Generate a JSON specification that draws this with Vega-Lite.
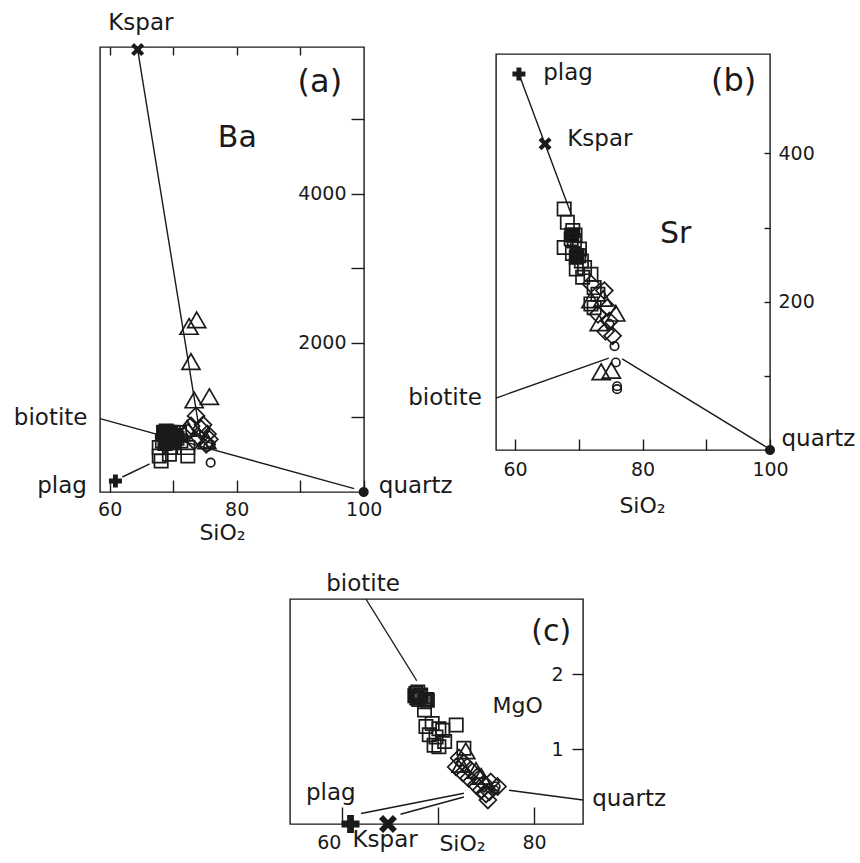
{
  "$schema": "https://vega.github.io/schema/vega-lite/v6.json",
  "padding": {"left": 13, "top": 11, "right": 5, "bottom": 5},
  "background": "white",
  "config": {
    "font": "DejaVu Sans",
    "view": {"stroke": "#1a1a1a", "strokeWidth": 1.4},
    "axis": {"grid": false, "domain": false, "ticks": true, "tickColor": "#1a1a1a", "tickWidth": 1.4, "labelColor": "#1a1a1a", "labelFont": "DejaVu Sans", "labelFontSize": 19, "titleFont": "DejaVu Sans", "titleFontSize": 22, "titleFontWeight": "normal", "titleColor": "#1a1a1a", "labelFlush": false, "labelOverlap": false, "labelBound": false},
    "text": {"font": "DejaVu Sans", "color": "#1a1a1a"}
  },
  "datasets": {
    "a_lines": [
      {"line": "k", "SiO2": 64.4, "Ba": 5929}, {"line": "k", "SiO2": 74.3, "Ba": 740},
      {"line": "b", "SiO2": 58.47, "Ba": 984}, {"line": "b", "SiO2": 98.5, "Ba": 46},
      {"line": "p", "SiO2": 62.0, "Ba": 201}, {"line": "p", "SiO2": 66.3, "Ba": 376}
    ],
    "a_fill": [
      {"sym": "S", "SiO2": 68.5, "Ba": 800}, {"sym": "S", "SiO2": 69.5, "Ba": 790}, {"sym": "S", "SiO2": 70.3, "Ba": 745},
      {"sym": "S", "SiO2": 68.8, "Ba": 720}, {"sym": "S", "SiO2": 69.8, "Ba": 690}, {"sym": "S", "SiO2": 69.0, "Ba": 660}
    ],
    "a_pts": [
      {"sym": "S", "SiO2": 69.6, "Ba": 774}, {"sym": "S", "SiO2": 68.9, "Ba": 819}, {"sym": "S", "SiO2": 70.1, "Ba": 707}, {"sym": "S", "SiO2": 68.3, "Ba": 685},
      {"sym": "S", "SiO2": 71.0, "Ba": 796}, {"sym": "S", "SiO2": 67.8, "Ba": 595}, {"sym": "S", "SiO2": 69.6, "Ba": 595}, {"sym": "S", "SiO2": 72.3, "Ba": 595},
      {"sym": "S", "SiO2": 67.8, "Ba": 483}, {"sym": "S", "SiO2": 69.4, "Ba": 506}, {"sym": "S", "SiO2": 72.3, "Ba": 483}, {"sym": "S", "SiO2": 68.1, "Ba": 416},
      {"sym": "S", "SiO2": 70.2, "Ba": 595}, {"sym": "S", "SiO2": 71.2, "Ba": 685}, {"sym": "S", "SiO2": 69.1, "Ba": 729}, {"sym": "S", "SiO2": 69.2, "Ba": 800},
      {"sym": "S", "SiO2": 70.4, "Ba": 760}, {"sym": "S", "SiO2": 68.7, "Ba": 650}, {"sym": "S", "SiO2": 69.0, "Ba": 760}, {"sym": "S", "SiO2": 69.8, "Ba": 740},
      {"sym": "S", "SiO2": 68.5, "Ba": 780}, {"sym": "S", "SiO2": 70.0, "Ba": 800}, {"sym": "S", "SiO2": 69.4, "Ba": 700}, {"sym": "S", "SiO2": 68.8, "Ba": 700},
      {"sym": "S", "SiO2": 70.6, "Ba": 720}, {"sym": "S", "SiO2": 69.9, "Ba": 660},
      {"sym": "D", "SiO2": 73.6, "Ba": 1020}, {"sym": "D", "SiO2": 72.8, "Ba": 886}, {"sym": "D", "SiO2": 74.4, "Ba": 846}, {"sym": "D", "SiO2": 75.4, "Ba": 778},
      {"sym": "D", "SiO2": 72.3, "Ba": 796}, {"sym": "D", "SiO2": 74.1, "Ba": 729}, {"sym": "D", "SiO2": 75.7, "Ba": 707}, {"sym": "D", "SiO2": 73.3, "Ba": 685},
      {"sym": "D", "SiO2": 75.2, "Ba": 640}, {"sym": "D", "SiO2": 74.7, "Ba": 900},
      {"sym": "T", "SiO2": 72.5, "Ba": 2184}, {"sym": "T", "SiO2": 73.7, "Ba": 2273}, {"sym": "T", "SiO2": 72.8, "Ba": 1714}, {"sym": "T", "SiO2": 73.3, "Ba": 1199},
      {"sym": "T", "SiO2": 75.7, "Ba": 1244}, {"sym": "T", "SiO2": 72.2, "Ba": 820}, {"sym": "T", "SiO2": 75.3, "Ba": 650},
      {"sym": "C", "SiO2": 75.9, "Ba": 393}, {"sym": "C", "SiO2": 75.9, "Ba": 640}, {"sym": "C", "SiO2": 75.5, "Ba": 610}
    ],
    "a_min": [
      {"sym": "plag", "SiO2": 60.9, "Ba": 148}, {"sym": "Kspar", "SiO2": 64.4, "Ba": 5929}, {"sym": "quartz", "SiO2": 100, "Ba": 0}
    ],
    "a_lab": [
      {"text": "Kspar", "kind": "lab", "SiO2": 64.9, "Ba": 6287}, {"text": "biotite", "kind": "lab", "SiO2": 50.7, "Ba": 989},
      {"text": "plag", "kind": "lab", "SiO2": 52.5, "Ba": 86}, {"text": "quartz", "kind": "lab", "SiO2": 108.2, "Ba": 86},
      {"text": "(a)", "kind": "letter", "SiO2": 93.1, "Ba": 5499}, {"text": "Ba", "kind": "elem", "SiO2": 80.1, "Ba": 4748}
    ],
    "b_lines": [
      {"line": "p", "SiO2": 60.6, "Sr": 507}, {"line": "p", "SiO2": 68.8, "Sr": 318},
      {"line": "b", "SiO2": 57.0, "Sr": 70}, {"line": "b", "SiO2": 74.7, "Sr": 124},
      {"line": "q", "SiO2": 76.8, "Sr": 123}, {"line": "q", "SiO2": 99.6, "Sr": 3}
    ],
    "b_fill": [
      {"sym": "S", "SiO2": 68.9, "Sr": 290}, {"sym": "S", "SiO2": 69.7, "Sr": 262}
    ],
    "b_pts": [
      {"sym": "S", "SiO2": 67.7, "Sr": 325}, {"sym": "S", "SiO2": 68.2, "Sr": 307}, {"sym": "S", "SiO2": 69.05, "Sr": 296}, {"sym": "S", "SiO2": 67.7, "Sr": 273},
      {"sym": "S", "SiO2": 69.3, "Sr": 282}, {"sym": "S", "SiO2": 70.1, "Sr": 271}, {"sym": "S", "SiO2": 69.6, "Sr": 260}, {"sym": "S", "SiO2": 70.4, "Sr": 255},
      {"sym": "S", "SiO2": 69.6, "Sr": 244}, {"sym": "S", "SiO2": 70.6, "Sr": 233}, {"sym": "S", "SiO2": 71.9, "Sr": 237}, {"sym": "S", "SiO2": 72.4, "Sr": 219},
      {"sym": "S", "SiO2": 71.9, "Sr": 197}, {"sym": "S", "SiO2": 73.0, "Sr": 210}, {"sym": "S", "SiO2": 72.4, "Sr": 192}, {"sym": "S", "SiO2": 68.8, "Sr": 285},
      {"sym": "S", "SiO2": 69.0, "Sr": 265}, {"sym": "S", "SiO2": 70.9, "Sr": 246}, {"sym": "S", "SiO2": 69.4, "Sr": 290}, {"sym": "S", "SiO2": 70.0, "Sr": 262},
      {"sym": "D", "SiO2": 74.0, "Sr": 215}, {"sym": "D", "SiO2": 74.5, "Sr": 192}, {"sym": "D", "SiO2": 74.8, "Sr": 174}, {"sym": "D", "SiO2": 75.3, "Sr": 154},
      {"sym": "D", "SiO2": 73.0, "Sr": 183}, {"sym": "D", "SiO2": 71.9, "Sr": 224}, {"sym": "D", "SiO2": 74.2, "Sr": 160},
      {"sym": "T", "SiO2": 73.2, "Sr": 168}, {"sym": "T", "SiO2": 75.8, "Sr": 181}, {"sym": "T", "SiO2": 73.5, "Sr": 102}, {"sym": "T", "SiO2": 75.1, "Sr": 104},
      {"sym": "T", "SiO2": 73.8, "Sr": 201}, {"sym": "T", "SiO2": 71.9, "Sr": 199},
      {"sym": "C", "SiO2": 75.6, "Sr": 140}, {"sym": "C", "SiO2": 75.8, "Sr": 118}, {"sym": "C", "SiO2": 76.0, "Sr": 86}, {"sym": "C", "SiO2": 76.0, "Sr": 82},
      {"sym": "C", "SiO2": 74.8, "Sr": 170}
    ],
    "b_min": [
      {"sym": "plag", "SiO2": 60.6, "Sr": 507}, {"sym": "Kspar", "SiO2": 64.7, "Sr": 413}, {"sym": "quartz", "SiO2": 100, "Sr": 0}
    ],
    "b_lab": [
      {"text": "plag", "kind": "lab", "SiO2": 68.3, "Sr": 508}, {"text": "Kspar", "kind": "lab", "SiO2": 73.3, "Sr": 419},
      {"text": "biotite", "kind": "lab", "SiO2": 49.0, "Sr": 70.5}, {"text": "quartz", "kind": "lab", "SiO2": 107.6, "Sr": 15},
      {"text": "(b)", "kind": "letter", "SiO2": 94.3, "Sr": 497}, {"text": "Sr", "kind": "elem", "SiO2": 85.2, "Sr": 291}
    ],
    "c_lines": [
      {"line": "b", "SiO2": 62.5, "MgO": 3.0}, {"line": "b", "SiO2": 67.8, "MgO": 1.91},
      {"line": "p", "SiO2": 62.0, "MgO": 0.14}, {"line": "p", "SiO2": 72.7, "MgO": 0.41},
      {"line": "k", "SiO2": 66.1, "MgO": 0.13}, {"line": "k", "SiO2": 72.7, "MgO": 0.36},
      {"line": "q", "SiO2": 77.4, "MgO": 0.45}, {"line": "q", "SiO2": 85.1, "MgO": 0.32}
    ],
    "c_fill": [
      {"sym": "S", "SiO2": 67.6, "MgO": 1.71}, {"sym": "S", "SiO2": 68.8, "MgO": 1.66}
    ],
    "c_pts": [
      {"sym": "S", "SiO2": 67.7, "MgO": 1.74}, {"sym": "S", "SiO2": 68.1, "MgO": 1.70}, {"sym": "S", "SiO2": 68.6, "MgO": 1.63}, {"sym": "S", "SiO2": 68.9, "MgO": 1.65},
      {"sym": "S", "SiO2": 68.6, "MgO": 1.52}, {"sym": "S", "SiO2": 68.75, "MgO": 1.30}, {"sym": "S", "SiO2": 69.4, "MgO": 1.34}, {"sym": "S", "SiO2": 70.1, "MgO": 1.27},
      {"sym": "S", "SiO2": 71.9, "MgO": 1.32}, {"sym": "S", "SiO2": 69.1, "MgO": 1.19}, {"sym": "S", "SiO2": 69.8, "MgO": 1.16}, {"sym": "S", "SiO2": 70.7, "MgO": 1.10},
      {"sym": "S", "SiO2": 69.6, "MgO": 1.05}, {"sym": "S", "SiO2": 70.5, "MgO": 1.25}, {"sym": "S", "SiO2": 72.7, "MgO": 1.01}, {"sym": "S", "SiO2": 70.1, "MgO": 1.03},
      {"sym": "S", "SiO2": 67.8, "MgO": 1.68}, {"sym": "S", "SiO2": 68.2, "MgO": 1.72}, {"sym": "S", "SiO2": 67.9, "MgO": 1.76}, {"sym": "S", "SiO2": 68.0, "MgO": 1.66},
      {"sym": "D", "SiO2": 72.2, "MgO": 0.88}, {"sym": "D", "SiO2": 71.9, "MgO": 0.76}, {"sym": "D", "SiO2": 72.7, "MgO": 0.81}, {"sym": "D", "SiO2": 72.6, "MgO": 0.68},
      {"sym": "D", "SiO2": 73.4, "MgO": 0.72}, {"sym": "D", "SiO2": 73.2, "MgO": 0.61}, {"sym": "D", "SiO2": 74.1, "MgO": 0.63}, {"sym": "D", "SiO2": 73.96, "MgO": 0.52},
      {"sym": "D", "SiO2": 74.8, "MgO": 0.54}, {"sym": "D", "SiO2": 75.5, "MgO": 0.56}, {"sym": "D", "SiO2": 74.5, "MgO": 0.45}, {"sym": "D", "SiO2": 75.35, "MgO": 0.43},
      {"sym": "D", "SiO2": 76.2, "MgO": 0.50}, {"sym": "D", "SiO2": 75.0, "MgO": 0.40}, {"sym": "D", "SiO2": 75.2, "MgO": 0.32},
      {"sym": "T", "SiO2": 72.9, "MgO": 0.94}, {"sym": "T", "SiO2": 72.4, "MgO": 0.76}, {"sym": "T", "SiO2": 73.96, "MgO": 0.68}, {"sym": "T", "SiO2": 74.5, "MgO": 0.60},
      {"sym": "C", "SiO2": 75.35, "MgO": 0.48}, {"sym": "C", "SiO2": 75.9, "MgO": 0.45}, {"sym": "C", "SiO2": 76.0, "MgO": 0.50}
    ],
    "c_min": [
      {"sym": "plag", "SiO2": 60.9, "MgO": 0}, {"sym": "Kspar", "SiO2": 64.8, "MgO": 0}
    ],
    "c_lab": [
      {"text": "biotite", "kind": "lab", "SiO2": 62.2, "MgO": 3.2}, {"text": "plag", "kind": "lab", "SiO2": 58.85, "MgO": 0.42},
      {"text": "Kspar", "kind": "lab", "SiO2": 64.5, "MgO": -0.216}, {"text": "quartz", "kind": "lab", "SiO2": 89.9, "MgO": 0.33},
      {"text": "(c)", "kind": "letter", "SiO2": 81.8, "MgO": 2.56}, {"text": "MgO", "kind": "elem", "SiO2": 78.3, "MgO": 1.57}
    ]
  },
  "bounds": "full",
  "spacing": 28,
  "vconcat": [
    {
      "bounds": "flush",
      "spacing": 132,
      "hconcat": [
        {
          "width": 264,
          "height": 445,
          "resolve": {"axis": {"x": "independent", "y": "independent"}},
          "layer": [
            {
              "data": {"name": "a_lines"},
              "mark": {"type": "line", "color": "#1a1a1a", "strokeWidth": 1.4},
              "encoding": {
                "x": {"field": "SiO2", "type": "quantitative", "scale": {"domain": [58.47, 100.05], "nice": false, "zero": false},
                  "axis": {"orient": "bottom", "values": [60, 70, 80, 90, 100], "labelExpr": "datum.value % 20 === 0 ? datum.label : ''", "offset": -12, "tickSize": 12, "labelPadding": 8, "title": "SiO₂", "titleX": 122, "titleY": 42, "titleBaseline": "top", "titleAlign": "center"}},
                "y": {"field": "Ba", "type": "quantitative", "scale": {"domain": [0, 5964], "nice": false, "zero": false},
                  "axis": {"orient": "right", "values": [1000, 2000, 3000, 4000, 5000], "format": "d", "labelExpr": "datum.value % 2000 === 0 ? datum.label : ''", "offset": -13, "tickSize": 13, "labelPadding": -18, "labelAlign": "right", "labelBaseline": "middle", "title": null}},
                "detail": {"field": "line", "type": "nominal"}
              }
            },
            {
              "data": {"name": "a_fill"},
              "mark": {"type": "point", "filled": true, "fill": "#111111", "stroke": "#111111", "strokeWidth": 1.7, "opacity": 1, "size": 324},
              "encoding": {
                "x": {"field": "SiO2", "type": "quantitative", "axis": {"orient": "top", "values": [60, 70, 80, 90], "offset": -8, "tickSize": 8, "labels": false, "title": null}},
                "y": {"field": "Ba", "type": "quantitative", "axis": null},
                "shape": {"field": "sym", "type": "nominal", "legend": null, "scale": {"domain": ["S", "D", "T", "C", "plag", "Kspar", "quartz"], "range": ["M-0.74,-0.74H0.74V0.74H-0.74Z", "M0,-0.94L0.94,0L0,0.94L-0.94,0Z", "M0,-1.15L1,0.58L-1,0.58Z", "M-0.47,0A0.47,0.47,0,1,0,0.47,0A0.47,0.47,0,1,0,-0.47,0Z", "M-0.38,-1H0.38V-0.38H1V0.38H0.38V1H-0.38V0.38H-1V-0.38H-0.38Z", "M-1,-0.55L-0.55,-1L0,-0.45L0.55,-1L1,-0.55L0.45,0L1,0.55L0.55,1L0,0.45L-0.55,1L-1,0.55L-0.45,0Z", "M-0.77,0A0.77,0.77,0,1,0,0.77,0A0.77,0.77,0,1,0,-0.77,0Z"]}}
              }
            },
            {
              "data": {"name": "a_pts"},
              "mark": {"type": "point", "filled": false, "color": "#1a1a1a", "strokeWidth": 1.7, "opacity": 1, "size": 324},
              "encoding": {
                "x": {"field": "SiO2", "type": "quantitative", "axis": null},
                "y": {"field": "Ba", "type": "quantitative", "axis": null},
                "shape": {"field": "sym", "type": "nominal", "legend": null}
              }
            },
            {
              "data": {"name": "a_min"},
              "mark": {"type": "point", "filled": true, "color": "#1a1a1a", "opacity": 1, "size": 169},
              "encoding": {
                "x": {"field": "SiO2", "type": "quantitative", "axis": null},
                "y": {"field": "Ba", "type": "quantitative", "axis": null},
                "shape": {"field": "sym", "type": "nominal", "legend": null}
              }
            },
            {
              "data": {"name": "a_lab"},
              "transform": [{"filter": "datum.kind === 'lab'"}],
              "mark": {"type": "text", "fontSize": 23, "align": "center", "baseline": "middle"},
              "encoding": {
                "x": {"field": "SiO2", "type": "quantitative", "axis": null},
                "y": {"field": "Ba", "type": "quantitative", "axis": null},
                "text": {"field": "text"}
              }
            },
            {
              "data": {"name": "a_lab"},
              "transform": [{"filter": "datum.kind === 'letter'"}],
              "mark": {"type": "text", "fontSize": 32, "align": "center", "baseline": "middle"},
              "encoding": {
                "x": {"field": "SiO2", "type": "quantitative", "axis": null},
                "y": {"field": "Ba", "type": "quantitative", "axis": null},
                "text": {"field": "text"}
              }
            },
            {
              "data": {"name": "a_lab"},
              "transform": [{"filter": "datum.kind === 'elem'"}],
              "mark": {"type": "text", "fontSize": 30, "align": "center", "baseline": "middle"},
              "encoding": {
                "x": {"field": "SiO2", "type": "quantitative", "axis": null},
                "y": {"field": "Ba", "type": "quantitative", "axis": null},
                "text": {"field": "text"}
              }
            }
          ]
        },
        {
          "bounds": "flush",
          "spacing": 6,
          "vconcat": [
            {"width": 274, "height": 1, "data": {"values": [{"k": 1}]}, "mark": {"type": "point", "opacity": 0}, "view": {"stroke": null}},
            {
              "width": 274,
              "height": 396,
              "resolve": {"axis": {"x": "independent", "y": "independent"}},
              "layer": [
                {
                  "data": {"name": "b_lines"},
                  "mark": {"type": "line", "color": "#1a1a1a", "strokeWidth": 1.4},
                  "encoding": {
                    "x": {"field": "SiO2", "type": "quantitative", "scale": {"domain": [57.0, 100.0], "nice": false, "zero": false},
                      "axis": {"orient": "bottom", "values": [60, 70, 80, 90, 100], "labelExpr": "datum.value % 20 === 0 ? datum.label : ''", "offset": -11, "tickSize": 11, "labelPadding": 10, "title": "SiO₂", "titleX": 146, "titleY": 56, "titleBaseline": "top", "titleAlign": "center"}},
                    "y": {"field": "Sr", "type": "quantitative", "scale": {"domain": [0, 534], "nice": false, "zero": false},
                      "axis": {"orient": "right", "values": [100, 200, 300, 400], "labelExpr": "datum.value % 200 === 0 ? datum.label : ''", "offset": -6, "tickSize": 6, "labelPadding": 8, "labelAlign": "left", "labelBaseline": "middle", "title": null}},
                    "detail": {"field": "line", "type": "nominal"}
                  }
                },
                {
                  "data": {"name": "b_fill"},
                  "mark": {"type": "point", "filled": true, "fill": "#111111", "stroke": "#111111", "strokeWidth": 1.7, "opacity": 1, "size": 324},
                  "encoding": {
                    "x": {"field": "SiO2", "type": "quantitative", "axis": null},
                    "y": {"field": "Sr", "type": "quantitative", "axis": null},
                    "shape": {"field": "sym", "type": "nominal", "legend": null}
                  }
                },
                {
                  "data": {"name": "b_pts"},
                  "mark": {"type": "point", "filled": false, "color": "#1a1a1a", "strokeWidth": 1.7, "opacity": 1, "size": 324},
                  "encoding": {
                    "x": {"field": "SiO2", "type": "quantitative", "axis": null},
                    "y": {"field": "Sr", "type": "quantitative", "axis": null},
                    "shape": {"field": "sym", "type": "nominal", "legend": null}
                  }
                },
                {
                  "data": {"name": "b_min"},
                  "mark": {"type": "point", "filled": true, "color": "#1a1a1a", "opacity": 1, "size": 169},
                  "encoding": {
                    "x": {"field": "SiO2", "type": "quantitative", "axis": null},
                    "y": {"field": "Sr", "type": "quantitative", "axis": null},
                    "shape": {"field": "sym", "type": "nominal", "legend": null}
                  }
                },
                {
                  "data": {"name": "b_lab"},
                  "transform": [{"filter": "datum.kind === 'lab'"}],
                  "mark": {"type": "text", "fontSize": 23, "align": "center", "baseline": "middle"},
                  "encoding": {
                    "x": {"field": "SiO2", "type": "quantitative", "axis": null},
                    "y": {"field": "Sr", "type": "quantitative", "axis": null},
                    "text": {"field": "text"}
                  }
                },
                {
                  "data": {"name": "b_lab"},
                  "transform": [{"filter": "datum.kind === 'letter'"}],
                  "mark": {"type": "text", "fontSize": 32, "align": "center", "baseline": "middle"},
                  "encoding": {
                    "x": {"field": "SiO2", "type": "quantitative", "axis": null},
                    "y": {"field": "Sr", "type": "quantitative", "axis": null},
                    "text": {"field": "text"}
                  }
                },
                {
                  "data": {"name": "b_lab"},
                  "transform": [{"filter": "datum.kind === 'elem'"}],
                  "mark": {"type": "text", "fontSize": 30, "align": "center", "baseline": "middle"},
                  "encoding": {
                    "x": {"field": "SiO2", "type": "quantitative", "axis": null},
                    "y": {"field": "Sr", "type": "quantitative", "axis": null},
                    "text": {"field": "text"}
                  }
                }
              ]
            }
          ]
        }
      ]
    },
    {
      "bounds": "flush",
      "spacing": 180,
      "hconcat": [
        {"width": 10, "height": 1, "data": {"values": [{"k": 1}]}, "mark": {"type": "point", "opacity": 0}, "view": {"stroke": null}},
        {
          "width": 293,
          "height": 225,
          "resolve": {"axis": {"x": "independent", "y": "independent"}},
          "layer": [
            {
              "data": {"name": "c_lines"},
              "mark": {"type": "line", "color": "#1a1a1a", "strokeWidth": 1.4},
              "encoding": {
                "x": {"field": "SiO2", "type": "quantitative", "scale": {"domain": [54.6, 85.1], "nice": false, "zero": false},
                  "axis": {"orient": "bottom", "values": [60, 70, 80], "labelExpr": "datum.value % 20 === 0 ? datum.label : ''", "labelOffset": {"condition": {"test": "datum.value === 60", "value": -13}, "value": 0}, "offset": -17, "tickSize": 17, "labelPadding": 9, "title": "SiO₂", "titleX": 172, "titleY": 26, "titleBaseline": "top", "titleAlign": "center"}},
                "y": {"field": "MgO", "type": "quantitative", "scale": {"domain": [0, 3], "nice": false, "zero": false},
                  "axis": {"orient": "right", "values": [1, 2], "offset": -11, "tickSize": 11, "labelPadding": -20, "labelAlign": "right", "labelBaseline": "middle", "title": null}},
                "detail": {"field": "line", "type": "nominal"}
              }
            },
            {
              "data": {"name": "c_fill"},
              "mark": {"type": "point", "filled": true, "fill": "#555555", "stroke": "#111111", "strokeWidth": 1.7, "opacity": 1, "size": 324},
              "encoding": {
                "x": {"field": "SiO2", "type": "quantitative", "axis": null},
                "y": {"field": "MgO", "type": "quantitative", "axis": null},
                "shape": {"field": "sym", "type": "nominal", "legend": null}
              }
            },
            {
              "data": {"name": "c_pts"},
              "mark": {"type": "point", "filled": false, "color": "#1a1a1a", "strokeWidth": 1.7, "opacity": 1, "size": 324},
              "encoding": {
                "x": {"field": "SiO2", "type": "quantitative", "axis": null},
                "y": {"field": "MgO", "type": "quantitative", "axis": null},
                "shape": {"field": "sym", "type": "nominal", "legend": null}
              }
            },
            {
              "data": {"name": "c_min"},
              "mark": {"type": "point", "filled": true, "color": "#1a1a1a", "opacity": 1, "size": 324},
              "encoding": {
                "x": {"field": "SiO2", "type": "quantitative", "axis": null},
                "y": {"field": "MgO", "type": "quantitative", "axis": null},
                "shape": {"field": "sym", "type": "nominal", "legend": null}
              }
            },
            {
              "data": {"name": "c_lab"},
              "transform": [{"filter": "datum.kind === 'lab'"}],
              "mark": {"type": "text", "fontSize": 23, "align": "center", "baseline": "middle"},
              "encoding": {
                "x": {"field": "SiO2", "type": "quantitative", "axis": null},
                "y": {"field": "MgO", "type": "quantitative", "axis": null},
                "text": {"field": "text"}
              }
            },
            {
              "data": {"name": "c_lab"},
              "transform": [{"filter": "datum.kind === 'letter'"}],
              "mark": {"type": "text", "fontSize": 30, "align": "center", "baseline": "middle"},
              "encoding": {
                "x": {"field": "SiO2", "type": "quantitative", "axis": null},
                "y": {"field": "MgO", "type": "quantitative", "axis": null},
                "text": {"field": "text"}
              }
            },
            {
              "data": {"name": "c_lab"},
              "transform": [{"filter": "datum.kind === 'elem'"}],
              "mark": {"type": "text", "fontSize": 22, "align": "center", "baseline": "middle"},
              "encoding": {
                "x": {"field": "SiO2", "type": "quantitative", "axis": null},
                "y": {"field": "MgO", "type": "quantitative", "axis": null},
                "text": {"field": "text"}
              }
            }
          ]
        }
      ]
    }
  ]
}
